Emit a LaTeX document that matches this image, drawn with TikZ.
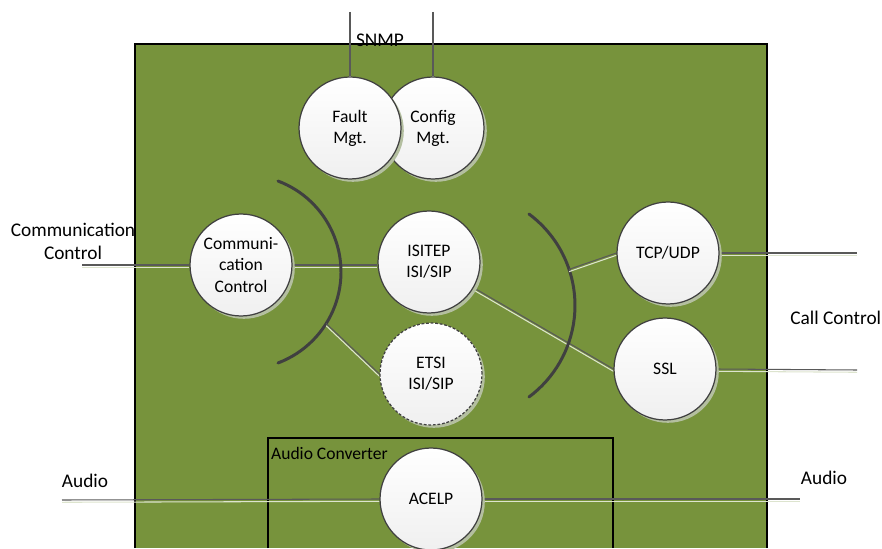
\documentclass[tikz,border=0pt]{standalone}
\usepackage{fontspec}
\setmainfont{Carlito}
\usetikzlibrary{shadows}
\definecolor{olive}{HTML}{77933C}
\definecolor{rim}{HTML}{404040}
\definecolor{shade}{HTML}{B4BFA0}
\pgfdeclarelayer{bg}
\pgfdeclarelayer{wires}
\pgfsetlayers{bg,wires,main}
\tikzset{
  unit/.style={circle,draw=rim,line width=0.7pt,minimum size=2.04cm,inner sep=0pt,
    top color=white,bottom color=black!6,align=center,
    font=\fontsize{10}{12}\selectfont,
    drop shadow={shadow xshift=1.6pt,shadow yshift=-1.6pt,fill=shade,opacity=1}},
  wire/.style={draw=black!65,line width=0.6pt,
    preaction={draw=white!75!olive,line width=0.6pt,transform canvas={yshift=-1.3pt}}},
  bow/.style={draw=rim,line width=1.7pt,line cap=round},
  label/.style={font=\fontsize{11}{13}\selectfont,align=center}
}
\begin{document}
\begin{tikzpicture}[x=0.02cm,y=0.02cm]
\useasboundingbox (0,0) rectangle (882,548);
% nodes
\node[unit] (CONF) at (433,420) {Config\\Mgt.};
\node[unit] (FAULT) at (350,420) {Fault\\Mgt.};
\node[unit] (CC) at (241,283) {Communi-\\cation\\Control};
\node[unit] (ISITEP) at (429,286) {ISITEP\\ISI/SIP};
\node[unit,dash pattern=on 1.6pt off 1pt] (ETSI) at (431,174) {ETSI\\ISI/SIP};
\node[unit] (TCP) at (668,295) {TCP/UDP};
\node[unit] (SSL) at (665,179) {SSL};
\node[unit] (ACELP) at (431,49) {ACELP};
% texts
\node[label] (snmp) at (380,508) {SNMP};
\node[label] (cctl) at (73,307) {Communication\\Control};
\node[label,anchor=west,inner sep=0pt] (call) at (790,230) {Call Control};
\node[label] (audioL) at (85,67) {Audio};
\node[label] (audioR) at (824,70) {Audio};
\node[font=\fontsize{10}{12}\selectfont,anchor=west,inner sep=1pt] (conv) at (269,95) {Audio Converter};
% free ends
\coordinate (snmpA) at (350,536);
\coordinate (snmpB) at (433,536);
\coordinate (ccIn) at (82,283);
\coordinate (tcpOut) at (857,295);
\coordinate (sslOut) at (857,178);
\coordinate (audIn) at (62,48);
\coordinate (audOut) at (800,49);
\coordinate (bowL) at (243.8,276);
\coordinate (bowR) at (461,242.5);
\begin{pgfonlayer}{bg}
\fill[olive] (135,0) rectangle (767,504);
\draw[black,line width=0.8pt] (135,0) -- (135,504) -- (767,504) -- (767,0);
\draw[black,line width=0.8pt] (268,0) -- (268,110) -- (613,110) -- (613,0);
\end{pgfonlayer}
\begin{pgfonlayer}{wires}
\draw[wire] (snmpA) -- (FAULT.north);
\draw[wire] (snmpB) -- (CONF.north);
\draw[wire] (ccIn) -- (CC.west);
\draw[wire] (CC.east) -- (CC.east -| ISITEP.west);
\draw[wire] (ISITEP.-30) -- (SSL.west);
\draw[bow] (bowL) ++(69.4:1.944cm) arc[start angle=69.4,end angle=-69.4,radius=1.944cm];
\draw[bow] (bowR) ++(53.4:2.28cm) arc[start angle=53.4,end angle=-53.4,radius=2.28cm];
\path (bowL) ++(-32:1.944cm) coordinate (lp);
\path (bowR) ++(18.5:2.28cm) coordinate (rp);
\draw[wire] (lp) -- (ETSI.west);
\draw[wire] (rp) -- (TCP.west);
\draw[wire] (TCP.east) -- (tcpOut);
\draw[wire] (SSL.east) -- (sslOut);
\draw[wire] (audIn) -- (ACELP.west);
\draw[wire] (ACELP.east) -- (audOut);
\end{pgfonlayer}
\end{tikzpicture}
\end{document}
